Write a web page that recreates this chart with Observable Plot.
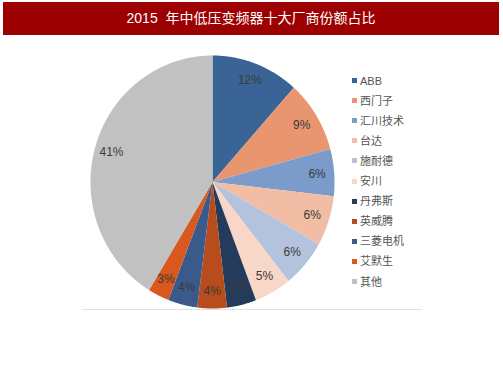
<!DOCTYPE html>
<html>
<head>
<meta charset="utf-8">
<script src="https://cdn.jsdelivr.net/npm/d3@7"></script>
<script src="https://cdn.jsdelivr.net/npm/@observablehq/plot@0.6"></script>
<style>
  html, body { margin: 0; padding: 0; background: #fff; }
  #wrap { position: relative; width: 503px; height: 378px; overflow: hidden; font-family: "Liberation Sans", Arial, "Noto Sans CJK SC", sans-serif; }
  #title { position: absolute; left: 3px; top: 2px; width: 496px; height: 33px; background: #9c0000; color: #fff; font-size: 14px; line-height: 33px; text-align: center; }
  #chart { position: absolute; left: 0; top: 0; }
  #legend { position: absolute; left: 352px; top: 73.5px; }
  .row { position: absolute; left: 0; height: 14px; white-space: nowrap; font-size: 11px; color: #555; line-height: 14px; }
  .sw { position: absolute; left: 0; top: 4.5px; width: 5px; height: 5px; }
  .lb { position: absolute; left: 8px; top: 0; }
  #baseline { position: absolute; left: 82px; top: 309px; width: 340px; height: 1px; background: #e0e0e0; }
</style>
</head>
<body>
<div id="wrap">
  <div id="chart"></div>
  <div id="baseline"></div>
  <div id="title">2015&nbsp; 年中低压变频器十大厂商份额占比</div>
  <div id="legend"></div>
</div>
<script>
const names = ["ABB", "西门子", "汇川技术", "台达", "施耐德", "安川", "丹弗斯", "英威腾", "三菱电机", "艾默生", "其他"];
const shares = [11.6, 9.2, 6.0, 6.4, 6.1, 4.9, 3.9, 3.9, 3.9, 2.8, 41.3];
const colors = ["#3b6496", "#e99670", "#7b9bcb", "#f1bda4", "#b4c3dd", "#f8d6c8", "#253b5c", "#b84c1c", "#3b5a8c", "#d9581f", "#c2c1c2"];

const arcs = d3.pie().sort(null).value(d => d)(shares);

// polygon points for each wedge (center + arc samples), angle 0 = 12 o'clock, clockwise
const pts = [];
arcs.forEach((a, i) => {
  pts.push({name: names[i], x: 0, y: 0});
  const n = Math.max(2, Math.ceil((a.endAngle - a.startAngle) / (Math.PI / 360)));
  for (let k = 0; k <= n; k++) {
    const t = a.startAngle + (a.endAngle - a.startAngle) * k / n;
    pts.push({name: names[i], x: Math.sin(t), y: Math.cos(t)});
  }
});

const labelR = 0.86;
const labels = arcs.map((a, i) => {
  const m = (a.startAngle + a.endAngle) / 2;
  return {name: names[i], x: labelR * Math.sin(m), y: labelR * Math.cos(m), text: d3.format(".0f")(shares[i]) + "%"};
});

const chart = Plot.plot({
  width: 503,
  height: 378,
  marginLeft: 90,
  marginRight: 169,
  marginTop: 55,
  marginBottom: 70,
  x: {domain: [-1, 1], axis: null},
  y: {domain: [-1, 1], axis: null},
  color: {domain: names, range: colors},
  style: {background: "transparent", fontFamily: "'Liberation Sans', Arial, 'Noto Sans CJK SC', sans-serif"},
  marks: [
    Plot.line(pts, {x: "x", y: "y", z: "name", fill: "name", stroke: "none", curve: "linear-closed"}),
    Plot.text(labels, {x: "x", y: "y", text: "text", fill: "#3a3a3a", fontSize: 12, textAnchor: "middle", lineAnchor: "middle"})
  ]
});
document.getElementById("chart").appendChild(chart);

const legend = d3.select("#legend");
names.forEach((n, i) => {
  const row = legend.append("div").attr("class", "row").style("top", (i * 20.1) + "px");
  row.append("div").attr("class", "sw").style("background", colors[i]);
  row.append("div").attr("class", "lb").text(n);
});
</script>
</body>
</html>
